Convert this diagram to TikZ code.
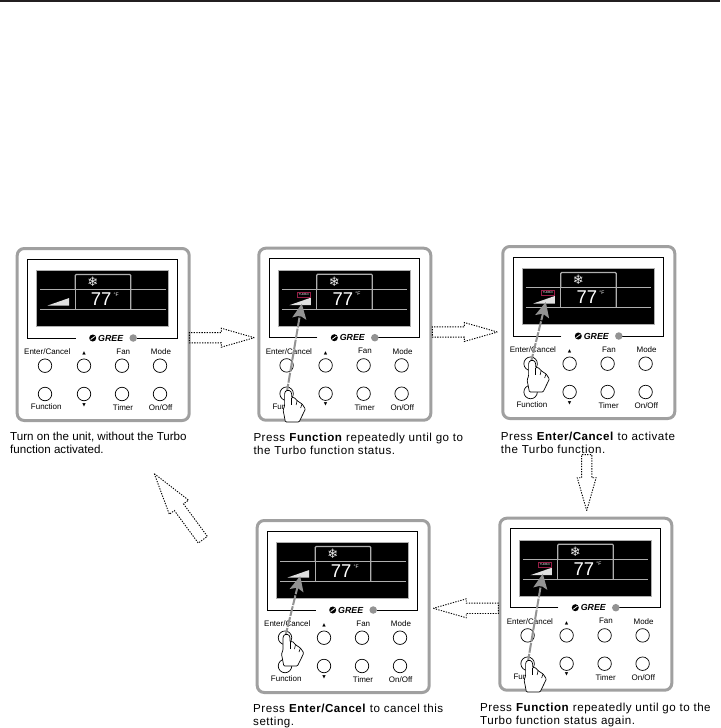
\documentclass[tikz,border=0pt]{standalone}
\usepackage{fontspec}
\setmainfont{Liberation Sans}
\newfontfamily\notefont[LetterSpace=4.4]{Liberation Sans}
\newfontfamily\symbolfont{DejaVu Sans}
\usetikzlibrary{arrows.meta,shapes.arrows}
\definecolor{framegray}{RGB}{160,160,160}
\definecolor{lcdline}{RGB}{175,175,175}
\definecolor{turbored}{RGB}{150,30,70}
\definecolor{topbar}{RGB}{35,31,32}
\tikzset{
  panelframe/.style={draw=framegray, line width=3pt, fill=white, rounded corners=7pt, minimum size=172pt, inner sep=0pt},
  lcd/.style={draw=lcdline, line width=1.2pt, fill=black, minimum width=132pt, minimum height=56pt, inner sep=0pt},
  lcdrule/.style={draw=lcdline, line width=1.2pt},
  keybutton/.style={circle, draw, line width=0.7pt, minimum size=13.5pt, inner sep=0pt},
  keylabel/.style={inner sep=0pt, font=\fontsize{8}{9}\selectfont},
  keymark/.style={inner sep=0pt, font=\symbolfont\fontsize{4.5}{5}\selectfont},
  note/.style={anchor=north west, inner sep=0pt, align=left, font=\notefont\fontsize{11.6}{13.2}\selectfont},
  hollowarrow/.style={single arrow, draw=black, line width=0.9pt, dash pattern=on 1.3pt off 1.3pt, anchor=tip,
    inner sep=0pt, text width=0pt, text height=4.7pt, text depth=4.7pt, minimum width=18pt, single arrow head extend=4.3pt, single arrow tip angle=32},
  pressarrow/.style={draw=gray!85, line width=2pt, dash pattern=on 10pt off 1.2pt, -{Stealth[length=15pt,width=14pt,inset=3pt]}},
  handshape/.style={draw, fill=white, line width=0.7pt, rounded corners=1pt}
}
% one control panel, #1 is the name, #2 #3 its top left corner
\newcommand{\controlpanel}[3]{
  \begin{scope}[shift={(#2,#3)}]
    \node[panelframe] (#1) at (87.5,87.5) {};
    \draw[line width=0.7pt] (60,91) -- (12,91) -- (12,12) -- (162,12) -- (162,91) -- (121,91);
    \node[lcd] (#1lcd) at (87,51.5) {};
    \draw[lcdrule] (24.5,42.5) -- (150,42.5);
    \draw[lcdrule] (24.5,62.5) -- (150,62.5);
    \draw[lcdrule, rounded corners=1pt] (59.5,42.5) -- (59.5,27.5) -- (115,27.5) -- (115,62.5);
    \draw[lcdrule] (59.5,42.5) -- (59.5,62.5);
    \fill[white!88!black] (32,58.5) -- (53.5,51) -- (53.5,58.5) -- cycle;
    \node[text=white!92!black, inner sep=0pt, font=\symbolfont\fontsize{13}{13}\selectfont] (#1snow) at (77,34.7) {❄};
    \node[text=white, inner sep=0pt, font=\fontsize{18.5}{19}\selectfont] (#1temp) at (85.5,52.5) {77};
    \node[text=white, inner sep=0pt, font=\fontsize{5}{6}\selectfont] (#1unit) at (100.5,47.5) {°F};
    \coordinate (#1tip) at (44.5,57);
    \fill (77,91) circle (3.5pt);
    \draw[white, line width=0.8pt] (75,92.5) -- (79,89.5);
    \node[inner sep=0pt, font=\bfseries\itshape\fontsize{8.8}{9}\selectfont] (#1logo) at (95,91) {GREE};
    \node[circle, fill=gray!85, minimum size=7.5pt, inner sep=0pt] (#1lamp) at (117.5,91) {};
    \node[keylabel] (#1enterlabel) at (31.6,104.5) {Enter/Cancel};
    \node[keylabel] (#1fanlabel) at (107.6,104.5) {Fan};
    \node[keylabel] (#1modelabel) at (145.3,104.5) {Mode};
    \node[keymark] (#1uplabel) at (68.3,106.5) {▲};
    \node[keybutton] (#1enter) at (29.3,118.7) {};
    \node[keybutton] (#1up) at (68.3,118.7) {};
    \node[keybutton] (#1fan) at (106.3,118.7) {};
    \node[keybutton] (#1mode) at (144.3,118.7) {};
    \node[keybutton] (#1func) at (29.3,147) {};
    \node[keybutton] (#1down) at (68.3,147) {};
    \node[keybutton] (#1timer) at (106.3,147) {};
    \node[keybutton] (#1onoff) at (144.3,147) {};
    \node[keylabel] (#1funclabel) at (30.6,159.7) {Function};
    \node[keymark] (#1downlabel) at (68.3,158) {▼};
    \node[keylabel] (#1timerlabel) at (107.3,160.5) {Timer};
    \node[keylabel] (#1onofflabel) at (145,160.5) {On/Off};
  \end{scope}
}
\newcommand{\turbobox}[1]{
  \node[draw=turbored, line width=0.8pt, fill=black, text=white, minimum width=12.5pt, minimum height=5pt, inner sep=0pt, font=\fontsize{2.8}{3}\selectfont]
    (#1turbo) at ([shift={(46.5,48)}]#1.north west) {TURBO};
}
\newcommand{\pressinghand}[1]{
  \begin{scope}[shift={(#1)}, shift={(1.5,-3.7)}]
    \draw[handshape] (-3.5,3) -- (-2,0.5) -- (2,0.5) -- (3.5,3) -- (3.5,8) -- (6,7.3) -- (9,10.7) -- (14,14) -- (17.3,19)
      -- (11,32) -- (-2.7,32) -- (-5,20) -- (-3.5,16) -- cycle;
    \draw[line width=0.6pt] (3.5,8) -- (3.5,15);
    \draw[line width=0.6pt] (9,10.7) -- (8,15);
    \draw[line width=0.6pt] (14,14) -- (12.5,18);
  \end{scope}
}
\begin{document}
\begin{tikzpicture}[x=1pt,y=-1pt]
  \useasboundingbox (0,0) rectangle (720,728);
  \fill[topbar] (0,0) rectangle (720,2);

  \controlpanel{first}{15.7}{247}
  \controlpanel{second}{257.3}{246.7}
  \controlpanel{third}{501.3}{245}
  \controlpanel{fourth}{498.3}{516.7}
  \controlpanel{fifth}{255.7}{519}

  \turbobox{second}
  \turbobox{third}
  \turbobox{fourth}

  \draw[pressarrow] (secondfunc.center) -- (secondtip);
  \draw[pressarrow] (thirdenter.center) -- (thirdtip);
  \draw[pressarrow] (fourthfunc.center) -- (fourthtip);
  \draw[pressarrow] (fifthenter.center) -- (fifthtip);

  \pressinghand{secondfunc}
  \pressinghand{thirdenter}
  \pressinghand{fourthfunc}
  \pressinghand{fifthenter}

  \node[hollowarrow, minimum height=65pt] (stepone) at (256,337.7) {};
  \node[hollowarrow, minimum height=65pt] (steptwo) at (499,332) {};
  \node[hollowarrow, minimum height=56pt, rotate=-90] (stepthree) at (586.7,512.3) {};
  \node[hollowarrow, minimum height=65pt, rotate=180] (stepfour) at (431.7,608.3) {};
  \node[hollowarrow, minimum height=82pt, text height=5.2pt, text depth=5.2pt, minimum width=23pt, single arrow head extend=6.3pt, rotate=126.3] (stepfive) at (153.3,472.3) {};

  \node[note, font=\fontsize{11.6}{13.2}\selectfont] (notefirst) at (10,432) {Turn on the unit, without the Turbo\\function activated.};
  \node[note] (notesecond) at (253.3,432.5) {Press \textbf{Function} repeatedly until go to\\the Turbo function status.};
  \node[note] (notethird) at (500.7,431.5) {Press \textbf{Enter/Cancel} to activate\\the Turbo function.};
  \node[note] (notefourth) at (480,703) {Press \textbf{Function} repeatedly until go to the\\Turbo function status again.};
  \node[note] (notefifth) at (253,703.5) {Press \textbf{Enter/Cancel} to cancel this\\setting.};
\end{tikzpicture}
\end{document}
